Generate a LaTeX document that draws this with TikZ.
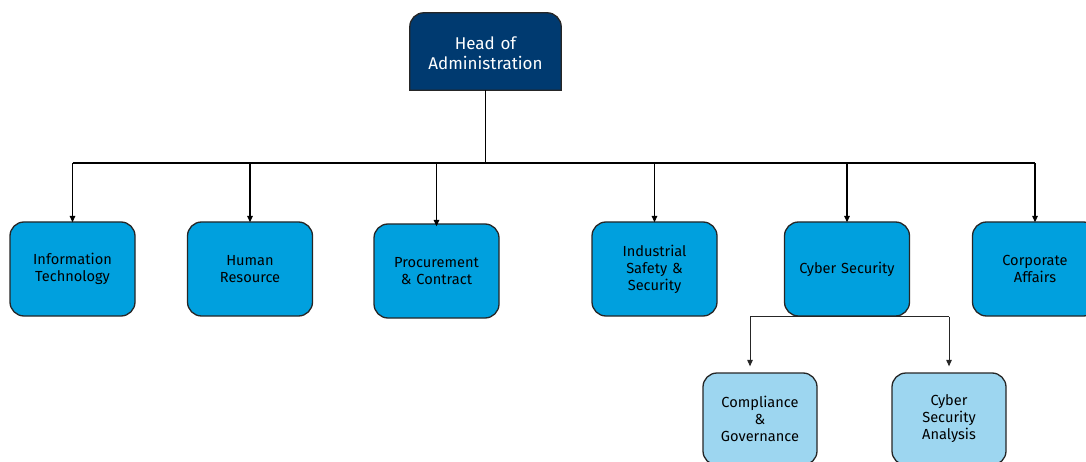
\documentclass[tikz,border=0pt]{standalone}
\usepackage{fontspec}
\setmainfont{Fira Sans}
\usetikzlibrary{arrows.meta,positioning,calc,backgrounds}

\definecolor{headblue}{RGB}{0,58,112}
\definecolor{unitblue}{RGB}{0,160,222}
\definecolor{subblue}{RGB}{157,214,240}

\begin{document}
\begin{tikzpicture}[
  x=1pt, y=-1pt,
  >={Triangle[length=6.5pt, width=5.5pt]},
  unit/.style={rectangle, rounded corners=14pt, draw=black!85, line width=1.3pt, fill=unitblue,
               minimum width=125pt, minimum height=94pt, text width=112pt, align=center,
               font=\fontsize{14.6}{17}\selectfont, inner sep=0pt},
  subunit/.style={unit, fill=subblue, minimum width=114pt, minimum height=92pt, text width=104pt},
  headbox/.style={rectangle, minimum width=151pt, minimum height=73pt, text width=144pt,
                  align=center, text=white, font=\fontsize{17}{20}\selectfont, inner sep=0pt},
  link/.style={line width=1.3pt, draw=black},
  sublink/.style={line width=1pt, draw=black!85},
]
\useasboundingbox (0,0) rectangle (1086,462);
\clip (0,0) rectangle (1086,462);

% head of the tree
\node[headbox] (head) at (485.5,53.5) {Head of\\Administration};
\begin{scope}[on background layer]
  \draw[fill=headblue, draw=black!85, line width=1.3pt]
    (head.south west) [rounded corners=14pt] -- ([yshift=4pt]head.north west)
    -- ([yshift=4pt]head.north east) [sharp corners] -- (head.south east) -- cycle;
\end{scope}

% departments
\node[unit] (it)    at (72.5,269)  {Information\\Technology};
\node[unit] (hr)    at (250,269)   {Human\\Resource};
\node[unit] (proc)  at (436.5,271) {Procurement\\\& Contract};
\node[unit] (ind)   at (654.5,269) {Industrial\\Safety \&\\Security};
\node[unit] (cyber) at (847,269)   {Cyber Security};
\node[unit] (corp)  at (1035,269)  {Corporate\\Affairs};

% cyber security teams
\node[subunit] (comp) at (760,419) {Compliance\\\&\\Governance};
\node[subunit] (csa)  at (949,419) {Cyber\\Security\\Analysis};

\coordinate (bus) at (485.5,163);
\draw[link] (head.south) -- (bus);
\draw[link] (it.north |- bus) -- (corp.north |- bus);
\foreach \n in {it,hr,ind,cyber,corp}
  \draw[link,->] (\n.north |- bus) -- ([yshift=-1pt]\n.north);
\draw[link,->] (proc.north |- bus) -- ([yshift=-3pt]proc.north);

\coordinate (fork) at (cyber.south);
\coordinate (compin) at ([xshift=-10pt]comp.north);
\draw[sublink] (compin |- fork) -- (csa.north |- fork);
\draw[sublink,->,shorten >=6pt] (compin |- fork) -- (compin);
\draw[sublink,->,shorten >=6pt] (csa.north |- fork) -- (csa.north);
\end{tikzpicture}
\end{document}
